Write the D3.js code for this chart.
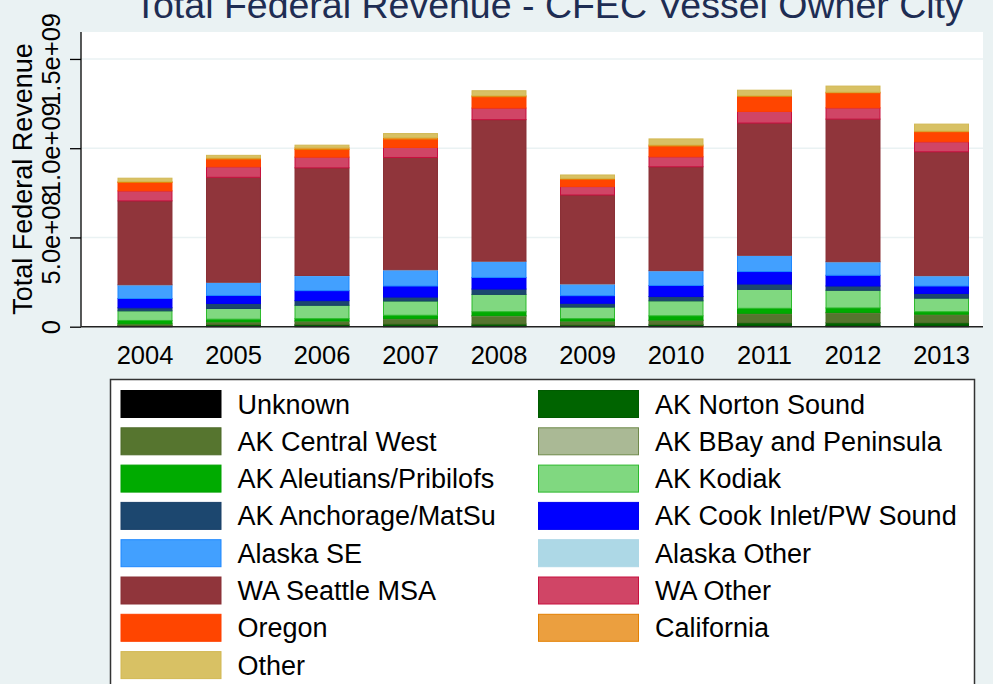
<!DOCTYPE html>
<html>
<head>
<meta charset="utf-8">
<script src="https://cdn.jsdelivr.net/npm/d3@7"></script>
<style>
  body { margin: 0; background: #eaf2f3; }
  svg { display: block; font-family: "Liberation Sans", Arial, sans-serif; }
</style>
</head>
<body>
<div id="chart"></div>
<script>
// values in millions of dollars
const years = ["2004", "2005", "2006", "2007", "2008", "2009", "2010", "2011", "2012", "2013"];

const unknown        = [3, 4, 5, 5, 5, 3, 4, 6, 6, 6];
const akNortonSound  = [4, 8, 8, 10, 10, 7, 9, 16, 16, 16];
const akCentralWest  = [8, 14, 18, 28, 44, 21, 22, 50, 55, 45];
const akBBay         = [1, 1, 1, 2, 3, 1, 2, 3, 3, 3];
const akAleutians    = [19, 15, 13, 19, 22, 13, 24, 28, 25, 14];
const akKodiak       = [54, 60, 75, 80, 97, 65, 84, 106, 99, 76];
const akAnchorage    = [17, 28, 26, 22, 30, 21, 24, 30, 24, 26];
const akCookInlet    = [52, 45, 56, 62, 65, 43, 62, 70, 60, 42];
const alaskaSE       = [76, 73, 84, 90, 90, 65, 82, 90, 75, 57];
const alaskaOther    = [1, 1, 1, 1, 1, 1, 1, 1, 1, 1];
const waSeattle      = [470, 588, 603, 629, 793, 498, 582, 741, 799, 694];
const waOther        = [56, 59, 60, 56, 65, 47, 56, 65, 63, 56];
const oregon         = [47, 43, 43, 47, 63, 41, 60, 84, 84, 56];
const california     = [5, 6, 9, 9, 6, 5, 6, 4, 4, 4];
const other          = [19, 15, 15, 22, 28, 19, 34, 31, 34, 39];

const yTicks = [0, 500, 1000, 1500];
const yTickLabels = ["0", "5.0e+08", "1.0e+09", "1.5e+09"];

const series = [
  { name: "Unknown", values: unknown, fill: "#000000", line: "#000000" },
  { name: "AK Norton Sound", values: akNortonSound, fill: "#006400", line: "#005a00" },
  { name: "AK Central West", values: akCentralWest, fill: "#56752f", line: "#4d6b28" },
  { name: "AK BBay and Peninsula", values: akBBay, fill: "#aab995", line: "#6f8a4a" },
  { name: "AK Aleutians/Pribilofs", values: akAleutians, fill: "#00ab00", line: "#00a000" },
  { name: "AK Kodiak", values: akKodiak, fill: "#80d880", line: "#2cba2c" },
  { name: "AK Anchorage/MatSu", values: akAnchorage, fill: "#1c476f", line: "#1a4169" },
  { name: "AK Cook Inlet/PW Sound", values: akCookInlet, fill: "#0000ff", line: "#0000f0" },
  { name: "Alaska SE", values: alaskaSE, fill: "#42a0ff", line: "#1e88ff" },
  { name: "Alaska Other", values: alaskaOther, fill: "#add8e6", line: "#add8e6" },
  { name: "WA Seattle MSA", values: waSeattle, fill: "#90353b", line: "#8a3036" },
  { name: "WA Other", values: waOther, fill: "#d04566", line: "#c8103e" },
  { name: "Oregon", values: oregon, fill: "#ff4500", line: "#ff4000" },
  { name: "California", values: california, fill: "#eb9f3f", line: "#e48000" },
  { name: "Other", values: other, fill: "#d8c164", line: "#d2b853" }
];

const W = 993, H = 684;
const plot = { left: 81, right: 983, top: 32, bottom: 326.7 };

const svg = d3.select("#chart").append("svg")
  .attr("width", W)
  .attr("height", H);

svg.append("rect").attr("width", W).attr("height", H).attr("fill", "#eaf2f3");

// Title (sits partly above the top edge, as in the original)
svg.append("text")
  .attr("x", 549)
  .attr("y", 18)
  .attr("text-anchor", "middle")
  .attr("font-size", "37.5px")
  .attr("fill", "#1e2d53")
  .text("Total Federal Revenue - CFEC Vessel Owner City");

// plot region
svg.append("rect")
  .attr("x", plot.left)
  .attr("y", plot.top)
  .attr("width", plot.right - plot.left)
  .attr("height", plot.bottom - plot.top)
  .attr("fill", "#ffffff");

// Scales
const x = d3.scaleBand()
  .domain(years)
  .range([81, 1005.5])
  .paddingInner(0.39)
  .paddingOuter(0.418);

const y = d3.scaleLinear()
  .domain([0, 1651])
  .range([plot.bottom, plot.top]);

// gridlines
svg.append("g")
  .selectAll("line")
  .data(yTicks.slice(1))
  .join("line")
  .attr("x1", plot.left)
  .attr("x2", plot.right)
  .attr("y1", (d) => y(d))
  .attr("y2", (d) => y(d))
  .attr("stroke", "#eaf2f3")
  .attr("stroke-width", 1.6);

// Stack the data
const rows = years.map((yr, i) => {
  const r = { year: yr };
  series.forEach((s) => { r[s.name] = s.values[i]; });
  return r;
});
const stacked = d3.stack().keys(series.map((s) => s.name))(rows);

const layers = svg.append("g")
  .selectAll("g")
  .data(stacked)
  .join("g")
  .attr("fill", (d, i) => series[i].fill)
  .attr("stroke", (d, i) => series[i].line)
  .attr("stroke-width", 1);

layers.selectAll("rect")
  .data((d) => d)
  .join("rect")
  .attr("x", (d) => x(d.data.year))
  .attr("width", x.bandwidth())
  .attr("y", (d) => y(d[1]))
  .attr("height", (d) => Math.max(0, y(d[0]) - y(d[1])));

// y axis
const yAxis = svg.append("g")
  .attr("transform", `translate(${plot.left},0)`)
  .call(d3.axisLeft(y).tickValues(yTicks).tickSize(11).tickFormat((d, i) => yTickLabels[i]));
yAxis.select(".domain").attr("stroke", "#000").attr("stroke-width", 1.3).attr("d", `M0,${plot.top}V${plot.bottom}`);
yAxis.selectAll(".tick line").attr("stroke", "#000").attr("stroke-width", 1.3);
yAxis.selectAll(".tick text")
  .attr("transform", "rotate(-90)")
  .attr("x", 0)
  .attr("y", -21.5)
  .attr("dy", 0)
  .attr("text-anchor", "middle")
  .attr("font-size", "25.5px")
  .attr("font-family", "Liberation Sans, Arial, sans-serif")
  .attr("fill", "#000");

// x axis
const xAxis = svg.append("g")
  .attr("transform", `translate(0,${plot.bottom})`)
  .call(d3.axisBottom(x).tickSize(0));
xAxis.select(".domain").attr("stroke", "#222").attr("stroke-width", 1.6).attr("d", `M${plot.left},0H${plot.right}`);
xAxis.selectAll(".tick text")
  .attr("y", 37.5)
  .attr("dy", 0)
  .attr("font-size", "25.5px")
  .attr("font-family", "Liberation Sans, Arial, sans-serif")
  .attr("fill", "#000");

// y axis title
svg.append("text")
  .attr("transform", "translate(31.5,179) rotate(-90)")
  .attr("text-anchor", "middle")
  .attr("font-size", "27px")
  .attr("fill", "#000")
  .text("Total Federal Revenue");

// Legend
const legend = svg.append("g");
legend.append("rect")
  .attr("x", 110.5)
  .attr("y", 379.5)
  .attr("width", 864)
  .attr("height", 320)
  .attr("fill", "#ffffff")
  .attr("stroke", "#333")
  .attr("stroke-width", 1.5);

const items = legend.selectAll("g.item")
  .data(series)
  .join("g")
  .attr("class", "item")
  .attr("transform", (d, i) => `translate(${i % 2 === 0 ? 121 : 538.5},${390.5 + Math.floor(i / 2) * 37.3})`);

items.append("rect")
  .attr("width", 100)
  .attr("height", 27)
  .attr("fill", (d) => d.fill)
  .attr("stroke", (d) => d.line)
  .attr("stroke-width", 1);

items.append("text")
  .attr("x", 116.5)
  .attr("y", 23)
  .attr("font-size", "27px")
  .attr("fill", "#000")
  .text((d) => d.name);
</script>
</body>
</html>
